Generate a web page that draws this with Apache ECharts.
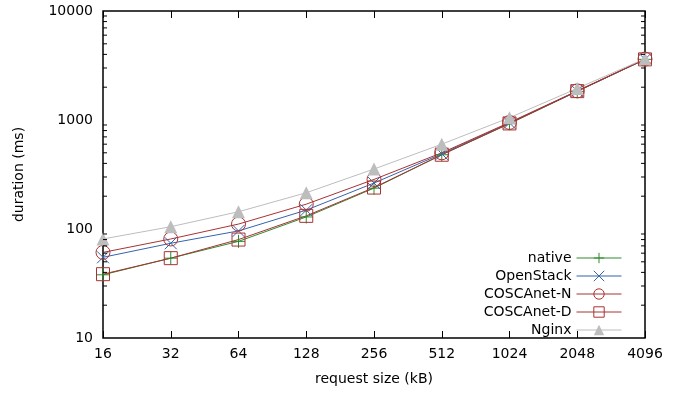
<!DOCTYPE html>
<html>
<head>
<meta charset="utf-8">
<script src="https://cdn.jsdelivr.net/npm/echarts@6/dist/echarts.min.js"></script>
<style>
  html, body { margin: 0; padding: 0; background: #fff; }
  #chart { width: 681px; height: 394px; }
</style>
</head>
<body>
<div id="chart"></div>
<script>
// request size (kB) categories
const categories = ['16', '32', '64', '128', '256', '512', '1024', '2048', '4096'];
// duration (ms) per series
const nativeData = [38, 54, 77, 129, 237, 480, 925, 1830, 3600];
const openStackData = [55, 74, 96, 149, 264, 490, 940, 1840, 3600];
const coscaNData = [61, 81, 111, 169, 285, 500, 950, 1850, 3620];
const coscaDData = [38.5, 54, 80, 132, 240, 480, 930, 1840, 3600];
const nginxData = [81, 105, 144, 215, 355, 600, 1050, 1950, 3650];
const yTicks = [10, 100, 1000, 10000];

// log minor ticks 2..9 in every decade
const minorTicks = [];
for (let d = 10; d < 10000; d *= 10) {
  for (let m = 2; m <= 9; m++) minorTicks.push([0, m * d]);
}

const font = 'DejaVu Sans';
const black = '#000';

const chart = echarts.init(document.getElementById('chart'));

const lineSeries = (name, data, color, symbol, size, filled) => ({
  name: name,
  type: 'line',
  data: data,
  xAxisIndex: 0,
  yAxisIndex: 0,
  symbol: symbol,
  symbolSize: size,
  showAllSymbol: true,
  lineStyle: { color: color, width: 1 },
  itemStyle: filled
    ? { color: color, borderWidth: 0 }
    : { color: 'transparent', borderColor: color, borderWidth: 1 },
  emphasis: { disabled: true },
  animation: false
});

const option = {
  animation: false,
  grid: {
    left: 103, right: 36, top: 11, bottom: 56,
    show: true, borderColor: black, borderWidth: 1.5, backgroundColor: 'transparent'
  },
  legend: {
    data: ['native', 'OpenStack', 'COSCAnet-N', 'COSCAnet-D', 'Nginx'],
    orient: 'vertical',
    right: 54,
    top: 246,
    align: 'right',
    itemWidth: 45,
    itemHeight: 13,
    itemGap: 4,
    lineStyle: { width: 1 },
    itemStyle: { borderWidth: 1 },
    textStyle: { fontFamily: font, fontSize: 14, color: black },
    selectedMode: false
  },
  xAxis: [
    {
      type: 'category',
      data: categories,
      boundaryGap: false,
      position: 'bottom',
      name: 'request size (kB)',
      nameLocation: 'middle',
      nameGap: 34,
      nameTextStyle: { fontFamily: font, fontSize: 14, color: black },
      axisLine: { show: false },
      axisTick: { inside: true, length: 7, lineStyle: { color: black, width: 1 } },
      axisLabel: { fontFamily: font, fontSize: 14, color: black, margin: 9, interval: 0 },
      splitLine: { show: false }
    },
    {
      type: 'category',
      data: categories,
      boundaryGap: false,
      position: 'top',
      axisLine: { show: false },
      axisTick: { inside: true, length: 7, lineStyle: { color: black, width: 1 } },
      axisLabel: { show: false },
      splitLine: { show: false }
    }
  ],
  yAxis: [
    {
      type: 'log',
      logBase: 10,
      min: 10,
      max: 10000,
      position: 'left',
      name: 'duration (ms)',
      nameLocation: 'middle',
      nameGap: 77,
      nameTextStyle: { fontFamily: font, fontSize: 14, color: black },
      axisLine: { show: false },
      axisTick: { inside: true, length: 7, lineStyle: { color: black, width: 1 } },
      axisLabel: {
        fontFamily: font, fontSize: 14, color: black, margin: 10,
        formatter: v => (yTicks.indexOf(Math.round(v)) >= 0 ? String(Math.round(v)) : '')
      },
      splitLine: { show: false }
    },
    {
      type: 'log',
      logBase: 10,
      min: 10,
      max: 10000,
      position: 'right',
      axisLine: { show: false },
      axisTick: { inside: true, length: 7, lineStyle: { color: black, width: 1 } },
      axisLabel: { show: false },
      splitLine: { show: false }
    }
  ],
  series: [
    {
      type: 'custom',
      name: 'minor',
      data: minorTicks,
      silent: true,
      clip: false,
      z: 5,
      renderItem: (params, api) => {
        const y = api.coord([0, api.value(1)])[1];
        const cs = params.coordSys;
        return {
          type: 'group',
          children: [
            { type: 'line', shape: { x1: cs.x, y1: y, x2: cs.x + 4, y2: y },
              style: { stroke: black, lineWidth: 1 } },
            { type: 'line', shape: { x1: cs.x + cs.width - 4, y1: y, x2: cs.x + cs.width, y2: y },
              style: { stroke: black, lineWidth: 1 } }
          ]
        };
      }
    },
    lineSeries('native', nativeData, '#2e8b2e', 'path://M6,0L6,12M0,6L12,6', 13, false),
    lineSeries('OpenStack', openStackData, '#3563ad', 'path://M0,0L12,12M12,0L0,12', 12, false),
    lineSeries('COSCAnet-N', coscaNData, '#a83232', 'circle', 14, false),
    lineSeries('COSCAnet-D', coscaDData, '#a83232', 'rect', 13, false),
    lineSeries('Nginx', nginxData, '#bdbdbd', 'triangle', 13, true)
  ]
};

chart.setOption(option);
</script>
</body>
</html>
